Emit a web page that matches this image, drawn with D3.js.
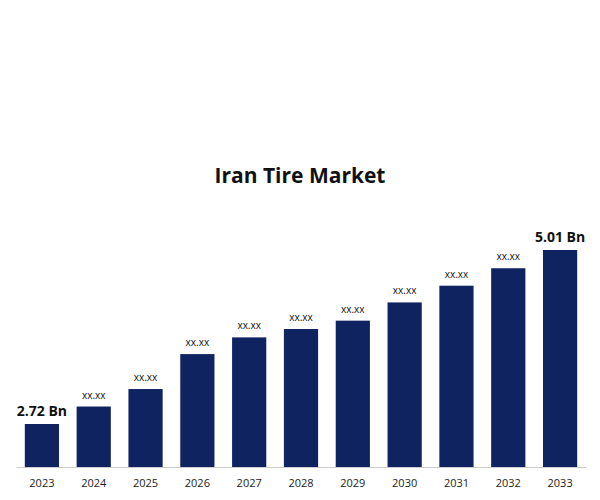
<!DOCTYPE html>
<html>
<head>
<meta charset="utf-8">
<script src="https://cdn.jsdelivr.net/npm/d3@7"></script>
<style>body{margin:0;background:#fff}</style>
</head>
<body>
<div id="chart"></div>
<script>
const years = ['2023', '2024', '2025', '2026', '2027', '2028', '2029', '2030', '2031', '2032', '2033']
const values = [2.72, 2.95, 3.18, 3.64, 3.86, 3.97, 4.08, 4.32, 4.54, 4.77, 5.01]
const labels = ['2.72 Bn', 'xx.xx', 'xx.xx', 'xx.xx', 'xx.xx', 'xx.xx', 'xx.xx', 'xx.xx', 'xx.xx', 'xx.xx', '5.01 Bn']

const margin = { top: 0, left: 16, right: 14, bottom: 33 }
const width = 600 - margin.left - margin.right
const height = 500 - margin.top - margin.bottom

const svg = d3
  .select('#chart')
  .append('svg')
  .attr('width', 600)
  .attr('height', 500)
  .append('g')
  .attr('transform', 'translate(' + margin.left + ',' + margin.top + ')')

const xPositionScale = d3.scaleBand().domain(years).range([0, width]).paddingInner(0.34).paddingOuter(0.17)
const yPositionScale = d3.scaleLinear().domain([2.154, 5.01]).range([height, 250])

svg
  .append('text')
  .text('Iran Tire Market')
  .attr('x', 300 - margin.left)
  .attr('y', 183)
  .attr('text-anchor', 'middle')
  .attr('font-family', 'Open Sans, sans-serif')
  .attr('font-size', 21)
  .attr('font-weight', 'bold')
  .attr('fill', '#111')

svg
  .selectAll('rect')
  .data(years)
  .enter()
  .append('rect')
  .attr('x', d => xPositionScale(d))
  .attr('width', xPositionScale.bandwidth())
  .attr('y', (d, i) => yPositionScale(values[i]))
  .attr('height', (d, i) => height - yPositionScale(values[i]))
  .attr('fill', '#0f2360')

svg
  .selectAll('.val')
  .data(years)
  .enter()
  .append('text')
  .attr('class', 'val')
  .text((d, i) => labels[i])
  .attr('x', d => xPositionScale(d) + xPositionScale.bandwidth() / 2)
  .attr('y', (d, i) => yPositionScale(values[i]) - 8)
  .attr('text-anchor', 'middle')
  .attr('font-family', 'Open Sans, sans-serif')
  .attr('font-size', (d, i) => (i === 0 || i === years.length - 1 ? 14 : 10))
  .attr('font-weight', (d, i) => (i === 0 || i === years.length - 1 ? 'bold' : 'normal'))
  .attr('fill', '#111')

const xAxis = d3.axisBottom(xPositionScale).tickSize(0).tickPadding(12)
svg
  .append('g')
  .attr('class', 'axis x-axis')
  .attr('transform', 'translate(0,' + height + ')')
  .call(xAxis)

svg.selectAll('.x-axis path').attr('stroke', '#ccc')
svg
  .selectAll('.x-axis text')
  .attr('font-family', 'Open Sans, sans-serif')
  .attr('font-size', 11)
  .attr('fill', '#222')
</script>
</body>
</html>
